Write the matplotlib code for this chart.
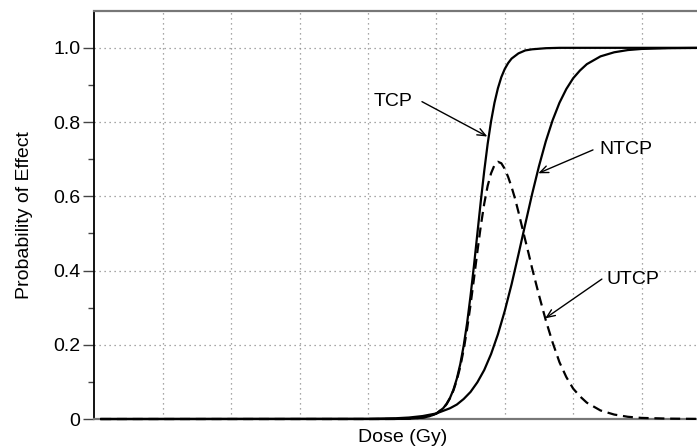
import matplotlib
matplotlib.use("Agg")
import matplotlib.pyplot as plt

plt.rcParams['font.family'] = ['Liberation Sans', 'DejaVu Sans']

# ---- data (dose in Gy, probability) ----
tcp_dose = [1, 40, 44, 46, 48, 49, 50, 51, 51.5, 52, 52.5, 53, 53.5, 54, 54.5,
            55, 55.5, 56, 56.5, 57, 57.5, 58, 58.5, 59, 59.5, 60, 60.5, 61,
            62, 63, 64, 66, 68, 90]
tcp = [0.0, 0.0, 0.0002, 0.0009, 0.0037, 0.0074, 0.0148, 0.029, 0.041, 0.057,
       0.079, 0.109, 0.148, 0.198, 0.259, 0.332, 0.413, 0.500, 0.587, 0.668,
       0.741, 0.802, 0.852, 0.891, 0.921, 0.943, 0.959, 0.971, 0.985, 0.993,
       0.996, 0.999, 1.0, 1.0]

ntcp_dose = [1, 40, 44, 46, 48, 50, 52, 53, 54, 55, 56, 57, 58, 59, 60, 61, 62,
             63, 64, 65, 66, 67, 68, 69, 70, 71, 72, 74, 76, 78, 80, 84, 90]
ntcp = [0.0, 0.0006, 0.002, 0.004, 0.008, 0.015, 0.029, 0.039, 0.054, 0.073,
        0.099, 0.132, 0.175, 0.228, 0.291, 0.363, 0.443, 0.525, 0.606, 0.681,
        0.748, 0.805, 0.852, 0.889, 0.918, 0.939, 0.956, 0.977, 0.988, 0.994,
        0.997, 0.999, 1.0]

utcp_dose = [1, 40, 44, 46, 48, 49, 50, 51, 51.5, 52, 52.5, 53, 53.5, 54, 54.5,
             55, 55.5, 56, 56.5, 57, 57.5, 58, 58.5, 59, 59.5, 60, 60.5, 61,
             61.5, 62, 62.5, 63, 63.5, 64, 64.5, 65, 66, 67, 68, 69, 70, 71,
             72, 74, 76, 78, 80, 84, 90]
utcp = [0.0, 0.0, 0.0002, 0.0009, 0.0037, 0.0073, 0.0146, 0.0287, 0.040, 0.056,
        0.077, 0.105, 0.141, 0.187, 0.243, 0.308, 0.378, 0.451, 0.520, 0.580,
        0.628, 0.662, 0.684, 0.693, 0.689, 0.674, 0.652, 0.625, 0.594, 0.558,
        0.520, 0.482, 0.445, 0.406, 0.370, 0.334, 0.266, 0.206, 0.153, 0.113,
        0.082, 0.061, 0.044, 0.023, 0.012, 0.006, 0.003, 0.001, 0.0]

y_ticks = [0, 0.2, 0.4, 0.6, 0.8, 1.0]
y_labels = ["0", "0.2", "0.4", "0.6", "0.8", "1.0"]
y_minor = [0.1, 0.3, 0.5, 0.7, 0.9]
x_grid = [10, 20, 30, 40, 50, 60, 70, 80]

fig = plt.figure(figsize=(6.97, 4.48), dpi=100)
ax = fig.add_axes([0.1353, 0.0647, 0.8833, 0.9114])

ax.set_xlim(0, 90)
ax.set_ylim(0, 1.1)

ax.plot(tcp_dose, tcp, color='black', lw=1.6, clip_on=False, zorder=3,
        solid_joinstyle='round')
ax.plot(ntcp_dose, ntcp, color='black', lw=1.6, clip_on=False, zorder=3,
        solid_joinstyle='round')
ax.plot(utcp_dose, utcp, color='black', lw=1.6, linestyle=(0, (4.5, 2.6)),
        clip_on=False, zorder=3)

# grid
ax.set_xticks(x_grid)
ax.set_xticklabels([])
ax.tick_params(axis='x', length=0)
ax.set_yticks(y_ticks)
ax.set_yticklabels(y_labels, fontsize=14)
ax.set_yticks(y_minor, minor=True)
ax.tick_params(axis='y', which='major', length=8, width=1.0, color='#444', pad=2)
ax.tick_params(axis='y', which='minor', length=4, width=1.0, color='#444')
ax.grid(True, which='major', color='#8a8a8a', linestyle=(0, (1, 3)), lw=0.9)

for side in ['top', 'bottom']:
    ax.spines[side].set_color('#777777')
    ax.spines[side].set_linewidth(1.6)
ax.spines['left'].set_color('black')
ax.spines['left'].set_linewidth(1.3)

ax.set_ylabel("Probability of Effect", fontsize=14)
ax.yaxis.set_label_coords(-0.100, 0.5)
ax.set_xlabel("Dose (Gy)", fontsize=14, labelpad=4)

arrow = dict(arrowstyle='->,head_length=0.6,head_width=0.25', lw=1.0,
             color='black', shrinkA=0, shrinkB=0)
ax.text(43.7, 0.855, "TCP", fontsize=14, ha='center', va='center')
ax.annotate('', xy=(57.46, 0.761), xytext=(47.9, 0.855), arrowprops=arrow)
ax.text(77.7, 0.725, "NTCP", fontsize=14, ha='center', va='center')
ax.annotate('', xy=(64.9, 0.662), xytext=(72.9, 0.725), arrowprops=arrow)
ax.text(78.8, 0.375, "UTCP", fontsize=14, ha='center', va='center')
ax.annotate('', xy=(65.9, 0.271), xytext=(74.2, 0.377), arrowprops=arrow)

fig.savefig("out.png", dpi=100)
